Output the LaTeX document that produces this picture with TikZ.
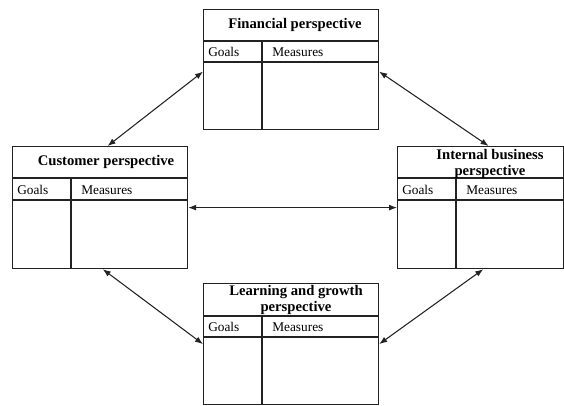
\documentclass[tikz,border=0pt]{standalone}
\usepackage{fontspec}
\setmainfont{Liberation Serif}
\usetikzlibrary{arrows.meta, calc}
\definecolor{bscline}{HTML}{222222}

\begin{document}
\begin{tikzpicture}[x=0.75pt, y=-0.75pt,
  box/.style={draw=bscline, line width=0.9pt, anchor=north west, inner sep=0pt, minimum width=131.25pt},
  rule/.style={draw=bscline, line width=0.9pt},
  title/.style={font=\fontsize{11}{12.5}\selectfont\bfseries, align=center, inner sep=0pt},
  cell/.style={font=\fontsize{10}{10}\selectfont, anchor=west, inner sep=0pt},
  link/.style={draw=bscline, line width=0.8pt, {Latex[length=6pt,width=4.5pt]}-{Latex[length=6pt,width=4.5pt]}}
]
  \useasboundingbox (0,0) rectangle (564,405);

  % Financial perspective (top)
  \begin{scope}[shift={(203,9)}]
    \node[box, minimum height=90pt] (fin) at (0,0) {};
    \draw[rule] (0,32) -- (175,32);
    \draw[rule] (0,53) -- (175,53);
    \draw[rule] (59,32) -- (59,120);
    \node[title] (fintitle) at (92,16) {Financial perspective};
    \node[cell] (fingoals) at (5,43) {Goals};
    \node[cell] (finmeas) at (69,43) {Measures};
  \end{scope}

  % Customer perspective (left)
  \begin{scope}[shift={(12,146)}]
    \node[box, minimum height=91.5pt] (cust) at (0,0) {};
    \draw[rule] (0,32) -- (175,32);
    \draw[rule] (0,54) -- (175,54);
    \draw[rule] (59,32) -- (59,122);
    \node[title] (custtitle) at (94,16) {Customer perspective};
    \node[cell] (custgoals) at (5,44) {Goals};
    \node[cell] (custmeas) at (69,44) {Measures};
  \end{scope}

  % Internal business perspective (right)
  \begin{scope}[shift={(397,146)}]
    \node[box, minimum width=124.5pt, minimum height=91.5pt] (intb) at (0,0) {};
    \draw[rule] (0,32) -- (166,32);
    \draw[rule] (0,54) -- (166,54);
    \draw[rule] (59,32) -- (59,122);
    \node[title] (inttitle) at (93,18) {Internal business\\perspective};
    \node[cell] (intgoals) at (5,44) {Goals};
    \node[cell] (intmeas) at (69,44) {Measures};
  \end{scope}

  % Learning and growth perspective (bottom)
  \begin{scope}[shift={(203,283)}]
    \node[box, minimum height=90.75pt] (learn) at (0,0) {};
    \draw[rule] (0,33) -- (175,33);
    \draw[rule] (0,54) -- (175,54);
    \draw[rule] (59,33) -- (59,121);
    \node[title] (learntitle) at (93,17) {Learning and growth\\perspective};
    \node[cell] (learngoals) at (5,44) {Goals};
    \node[cell] (learnmeas) at (69,44) {Measures};
  \end{scope}

  % Links between perspectives
  \draw[link] ([xshift=5.6pt]cust.north) -- ([yshift=-1.5pt]fin.west);
  \draw[link] ([yshift=-1.5pt]fin.east) -- ([xshift=6pt]intb.north);
  \draw[link] (cust.east) -- (intb.west);
  \draw[link] ([xshift=2pt]cust.south) -- (learn.west);
  \draw[link] ([xshift=2pt]intb.south) -- (learn.east);
\end{tikzpicture}
\end{document}
